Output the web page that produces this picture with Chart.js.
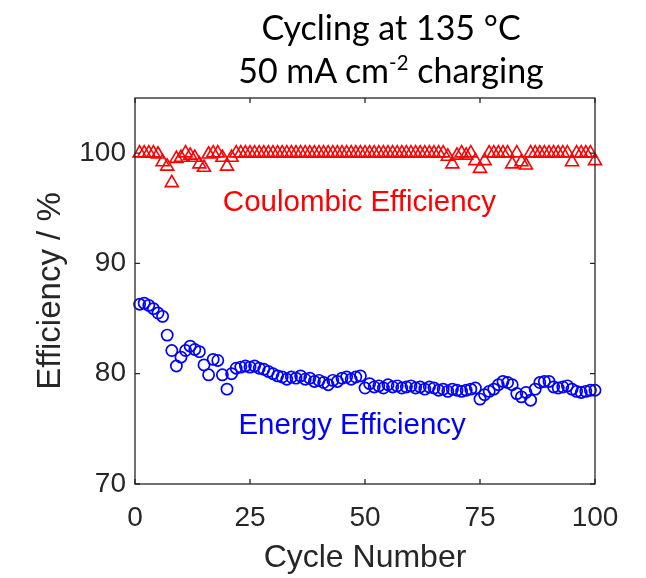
<!DOCTYPE html>
<html><head><meta charset="utf-8">
<script src="https://cdn.jsdelivr.net/npm/chart.js@4.4.1/dist/chart.umd.min.js"></script>
<style>
html,body{margin:0;padding:0;background:#fff;}
#wrap{position:relative;width:646px;height:578px;overflow:hidden;}
#title{position:absolute;left:191px;width:400px;top:5px;text-align:center;font-family:Lato,"Open Sans",sans-serif;font-size:34px;line-height:43px;color:#000;}
#title sup{font-size:60%;line-height:0;vertical-align:0.62em;}
canvas{position:absolute;left:0;top:0;}
</style></head>
<body><div id="wrap">
<canvas id="c" width="646" height="578"></canvas>
<div id="title">Cycling at 135 °C<br>50 mA cm<sup>-2</sup> charging</div>
</div>
<script>
const cycles = [1,2,3,4,5,6,7,8,9,10,11,12,13,14,15,16,17,18,19,20,21,22,23,24,25,26,27,28,29,30,31,32,33,34,35,36,37,38,39,40,41,42,43,44,45,46,47,48,49,50,51,52,53,54,55,56,57,58,59,60,61,62,63,64,65,66,67,68,69,70,71,72,73,74,75,76,77,78,79,80,81,82,83,84,85,86,87,88,89,90,91,92,93,94,95,96,97,98,99,100];
const coulombicEff = [100,100,100,100,99.9,99.2,98.8,97.3,99.5,99.6,100,99.8,99.6,99.0,98.7,99.9,100,100,99.6,98.8,99.6,100,100,100,100,100,100,100,100,100,100,100,100,100,100,100,100,100,100,100,100,100,100,100,100,100,100,100,100,100,100,100,100,100,100,100,100,100,100,100,100,100,100,100,100,100,100,99.7,99.0,99.8,100,99.8,100,99.3,98.6,99.3,100,100,100,100,100,99.0,100,99.2,98.9,100,100,100,100,100,100,100,100,100,99.2,100,100,100,100,99.3];
const energyEff = [86.3,86.4,86.2,85.9,85.5,85.2,83.5,82.1,80.7,81.5,82.1,82.5,82.2,82.0,80.8,79.9,81.3,81.2,79.9,78.6,80.0,80.5,80.6,80.7,80.6,80.7,80.5,80.4,80.2,80.0,79.8,79.7,79.5,79.7,79.6,79.8,79.5,79.6,79.3,79.4,79.2,79.0,79.4,79.3,79.6,79.7,79.5,79.7,79.8,78.7,79.1,78.8,78.9,78.7,79.0,78.8,78.9,78.7,78.8,78.9,78.7,78.8,78.6,78.8,78.7,78.5,78.6,78.4,78.6,78.5,78.4,78.5,78.6,78.7,77.7,78.1,78.4,78.6,79.0,79.3,79.2,79.0,78.2,77.9,78.3,77.6,78.6,79.2,79.3,79.3,78.8,78.7,78.8,78.9,78.6,78.4,78.3,78.4,78.5,78.5];
const xTicks = [0,25,50,75,100];
const yTicks = [70,80,90,100];
const seriesLabels = ['Coulombic Efficiency','Energy Efficiency'];
const labelPos = [[48.8,95.45],[47.2,75.25]];
const colors = ['#ff0000','#0000ff'];

const axisColor = '#262626';
const sansFont = '"Liberation Sans", Arial, sans-serif';

const boxPlugin = {
  id: 'box',
  afterDatasetsDraw(chart) {
    const {ctx, chartArea: a, scales} = chart;
    ctx.save();
    ctx.strokeStyle = axisColor;
    ctx.lineWidth = 1.3;
    ctx.strokeRect(a.left, a.top, a.right - a.left, a.bottom - a.top);
    ctx.beginPath();
    const L = 5;
    xTicks.forEach(v => {
      const px = scales.x.getPixelForValue(v);
      ctx.moveTo(px, a.bottom); ctx.lineTo(px, a.bottom - L);
      ctx.moveTo(px, a.top); ctx.lineTo(px, a.top + L);
    });
    yTicks.forEach(v => {
      const py = scales.y.getPixelForValue(v);
      ctx.moveTo(a.left, py); ctx.lineTo(a.left + L, py);
      ctx.moveTo(a.right, py); ctx.lineTo(a.right - L, py);
    });
    ctx.stroke();
    ctx.font = '29.5px ' + sansFont;
    ctx.textAlign = 'center';
    ctx.textBaseline = 'middle';
    seriesLabels.forEach((t, i) => {
      ctx.fillStyle = colors[i];
      ctx.fillText(t, scales.x.getPixelForValue(labelPos[i][0]), scales.y.getPixelForValue(labelPos[i][1]));
    });
    ctx.restore();
  }
};

new Chart(document.getElementById('c'), {
  type: 'scatter',
  data: {
    datasets: [
      {label: seriesLabels[0], data: cycles.map((c, i) => ({x: c, y: coulombicEff[i]})),
       pointStyle: 'triangle', pointRadius: 7.5, borderColor: colors[0], backgroundColor: 'rgba(0,0,0,0)', borderWidth: 1.6},
      {label: seriesLabels[1], data: cycles.map((c, i) => ({x: c, y: energyEff[i]})),
       pointStyle: 'circle', pointRadius: 5.6, borderColor: colors[1], backgroundColor: 'rgba(0,0,0,0)', borderWidth: 1.7}
    ]
  },
  options: {
    responsive: false,
    animation: false,
    clip: false,
    layout: {padding: {top: 98, right: 51, left: 0, bottom: 0}},
    plugins: {legend: {display: false}, tooltip: {enabled: false}, title: {display: false}},
    scales: {
      x: {
        type: 'linear', min: 0, max: 100,
        afterBuildTicks: s => { s.ticks = xTicks.map(v => ({value: v})); },
        afterFit: s => { s.height = 94; },
        grid: {display: false, drawTicks: false},
        border: {display: false},
        ticks: {font: {family: sansFont, size: 28}, color: axisColor, padding: 17, maxRotation: 0, autoSkip: false},
        title: {display: true, text: 'Cycle Number', font: {family: sansFont, size: 32}, color: axisColor, padding: {top: 0, bottom: 1}}
      },
      y: {
        type: 'linear', min: 70, max: 105,
        afterBuildTicks: s => { s.ticks = yTicks.map(v => ({value: v})); },
        afterFit: s => { s.width = 135; },
        grid: {display: false, drawTicks: false},
        border: {display: false},
        ticks: {font: {family: sansFont, size: 28}, color: axisColor, padding: 9, autoSkip: false},
        title: {display: true, text: 'Efficiency / %', font: {family: sansFont, size: 33}, color: axisColor, padding: {top: 31, bottom: 0}}
      }
    }
  },
  plugins: [boxPlugin]
});
</script>
</body></html>
